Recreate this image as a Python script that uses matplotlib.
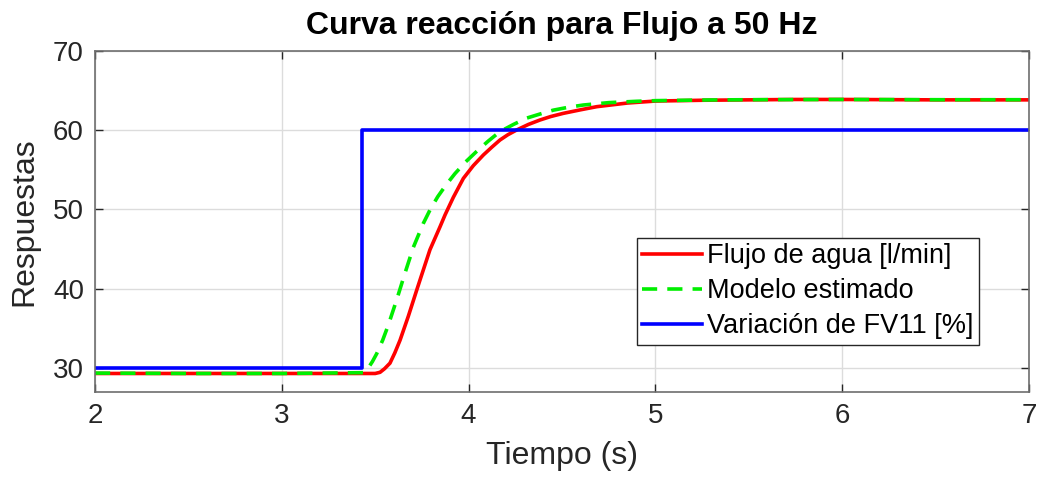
import numpy as np
import matplotlib
matplotlib.use("Agg")
import matplotlib.pyplot as plt

plt.rcParams['font.family'] = ['Liberation Sans', 'DejaVu Sans']

# valores
t_flujo = [2.0, 2.5, 3.0, 3.45, 3.50, 3.526, 3.55, 3.579, 3.605, 3.633, 3.677, 3.722, 3.74,
           3.793, 3.847, 3.874, 3.918, 3.972, 4.025, 4.079, 4.125, 4.168, 4.21, 4.257,
           4.32, 4.382, 4.44, 4.507, 4.6, 4.686, 4.85, 5.0, 5.25, 5.5, 5.75, 6.0,
           6.5, 7.0]
flujo = [29.3, 29.3, 29.3, 29.3, 29.3, 29.45, 29.9, 30.6, 31.9, 33.5, 36.5, 39.8, 41.1,
         44.9, 47.8, 49.3, 51.5, 53.9, 55.5, 56.85, 57.85, 58.74, 59.4, 60.0,
         60.7, 61.26, 61.7, 62.1, 62.55, 62.94, 63.4, 63.65, 63.75, 63.8, 63.85, 63.85,
         63.8, 63.8]

t_modelo = [2.0, 2.5, 3.0, 3.436, 3.46, 3.485, 3.508, 3.54, 3.57, 3.615, 3.66, 3.704, 3.757,
            3.795, 3.835, 3.88, 3.927, 3.985, 4.043, 4.105, 4.168, 4.24, 4.311, 4.38,
            4.453, 4.53, 4.614, 4.75, 4.9, 5.0, 5.25, 5.5, 6.0, 6.5, 7.0]
modelo = [29.35, 29.3, 29.3, 29.4, 29.9, 30.8, 31.8, 33.5, 35.4, 38.6, 42.0, 45.2, 48.2,
          50.0, 51.6, 53.1, 54.5, 56.0, 57.3, 58.6, 59.8, 60.7, 61.5, 62.0,
          62.5, 62.85, 63.15, 63.45, 63.62, 63.7, 63.78, 63.82, 63.85, 63.82, 63.82]

t_fv11 = [2.0, 3.428, 3.428, 7.0]
fv11 = [30, 30, 60, 60]

fig = plt.figure(figsize=(10.42, 4.86), dpi=100)
ax = fig.add_axes([0.0912, 0.194, 0.8963, 0.7017])

ax.plot(t_flujo, flujo, color='#ff0000', lw=2.6, label='Flujo de agua [l/min]')
ax.plot(t_modelo, modelo, color='#00ee00', lw=2.6, ls=(0, (4.2, 2.8)), label='Modelo estimado')
ax.plot(t_fv11, fv11, color='#0000ff', lw=2.6, label='Variación de FV11 [%]')

ax.set_xlim(2, 7)
ax.set_ylim(27, 70)
ax.set_xticks([2, 3, 4, 5, 6, 7])
ax.set_yticks([30, 40, 50, 60, 70])
ax.grid(True, color='#dcdcdc', lw=1)
ax.set_axisbelow(True)
ax.tick_params(direction='in', top=True, right=True, length=6, width=1,
               color='#262626', labelsize=20, labelcolor='#262626', pad=8)
for s in ax.spines.values():
    s.set_color('#6e6e6e')
    s.set_linewidth(1.2)

ax.set_xlabel('Tiempo (s)', fontsize=23, color='#262626', labelpad=9)
ax.set_ylabel('Respuestas', fontsize=23, color='#262626', labelpad=10)
ax.set_title('Curva reacción para Flujo a 50 Hz', fontsize=23, fontweight='bold', pad=12)

leg = ax.legend(loc='upper left', bbox_to_anchor=(0.580, 0.4507), fontsize=19.5,
                frameon=True, fancybox=False, framealpha=1, edgecolor='#262626',
                handlelength=2.2, handletextpad=0.2, borderpad=0.2, labelspacing=0.33,
                borderaxespad=0)
leg.get_frame().set_linewidth(1)

fig.savefig('out.png', dpi=100)
